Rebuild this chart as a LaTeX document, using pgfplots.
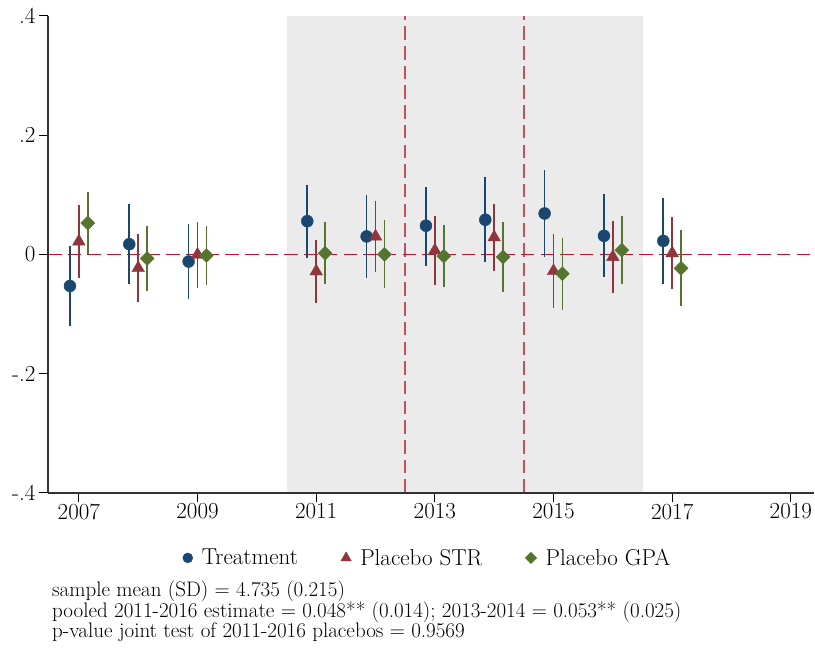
\documentclass[border=0pt]{standalone}
\usepackage{fontspec}
\usepackage{pgfplots}
\usepackage{pgfplotstable}
\pgfplotsset{compat=1.18}
\definecolor{tnavy}{RGB}{26,71,111}
\definecolor{tmaroon}{RGB}{144,53,59}
\definecolor{tgreen}{RGB}{85,117,47}
\definecolor{zred}{RGB}{200,16,46}
\definecolor{bandgray}{RGB}{235,235,235}
\definecolor{vred}{RGB}{196,80,95}

\pgfplotstableread{
x y lo hi
2006.85 -0.053 -0.120 0.0135
2007.85 0.017 -0.049 0.084
2008.85 -0.012 -0.075 0.051
2010.85 0.0556 -0.006 0.117
2011.85 0.030 -0.040 0.100
2012.85 0.048 -0.019 0.113
2013.85 0.058 -0.012 0.129
2014.85 0.0685 -0.0045 0.1415
2015.85 0.031 -0.038 0.1016
2016.85 0.0225 -0.049 0.094
}\treat

\pgfplotstableread{
x y lo hi
2007 0.0215 -0.039 0.082
2008 -0.023 -0.080 0.034
2009 -0.0005 -0.056 0.055
2011 -0.0285 -0.081 0.024
2012 0.030 -0.030 0.090
2013 0.0065 -0.052 0.065
2014 0.0285 -0.028 0.085
2015 -0.028 -0.090 0.034
2016 -0.0045 -0.065 0.056
2017 0.002 -0.058 0.062
}\str

\pgfplotstableread{
x y lo hi
2007.15 0.0525 0.0 0.105
2008.15 -0.007 -0.062 0.048
2009.15 -0.002 -0.052 0.048
2011.15 0.00175 -0.0505 0.054
2012.15 0.0 -0.057 0.057
2013.15 -0.003 -0.055 0.049
2014.15 -0.0045 -0.063 0.054
2015.15 -0.0325 -0.093 0.028
2016.15 0.007 -0.0505 0.064
2017.15 -0.0235 -0.087 0.040
}\gpa

\begin{document}
\begin{tikzpicture}[x=1pt,y=1pt,font=\fontsize{23}{27}\selectfont]
\useasboundingbox (0,0) rectangle (815,653);
\begin{axis}[
  at={(48pt,160pt)}, anchor=south west,
  scale only axis, width=766pt, height=477.3pt,
  xmin=2006.48, xmax=2019.39, ymin=-0.4, ymax=0.4,
  axis x line=bottom, axis y line=left,
  axis line style={-, line width=1.2pt, black!80},
  axis on top,
  xtick={2007,2009,2011,2013,2015,2017,2019},
  xticklabels={2007,2009,2011,2013,2015,2017,2019},
  ytick={-0.4,-0.2,0,0.2,0.4},
  yticklabels={-.4,-.2,0,.2,.4},
  /pgf/number format/assume math mode=true,
  tick align=outside, major tick length=9pt,
  tick style={black, line width=1pt},
  xticklabel style={yshift=2pt},
  legend style={at={(0.5,-0.136)}, anchor=center, draw=none, fill=none,
    legend columns=3, font=\fontsize{23}{27}\selectfont,
    /tikz/every even column/.append style={column sep=34pt},
    nodes={inner xsep=9pt}},
  legend cell align=left,
]
\fill[fill=bandgray] (axis cs:2010.5,-0.4) rectangle (axis cs:2016.5,0.4);
\draw[draw=vred, line width=1.8pt, dash pattern=on 13.5pt off 6.2pt] (axis cs:2012.5,-0.4) -- (axis cs:2012.5,0.4) (axis cs:2014.5,-0.4) -- (axis cs:2014.5,0.4);
\draw[draw=zred, line width=1.6pt, dash pattern=on 13.5pt off 6.2pt] (axis cs:2006.48,0) -- (axis cs:2019.39,0);

\addplot[only marks, mark=*, mark size=6pt, tnavy, forget plot,
  error bars/.cd, y dir=both, y explicit, error mark=none,
  error bar style={line width=1.7pt, tnavy}]
  table[x=x, y=y, y error plus expr=\thisrow{hi}-\thisrow{y}, y error minus expr=\thisrow{y}-\thisrow{lo}] {\treat};
\addplot[only marks, mark=triangle*, mark size=7.3pt, tmaroon, forget plot,
  error bars/.cd, y dir=both, y explicit, error mark=none,
  error bar style={line width=1.7pt, tmaroon}]
  table[x=x, y=y, y error plus expr=\thisrow{hi}-\thisrow{y}, y error minus expr=\thisrow{y}-\thisrow{lo}] {\str};
\addplot[only marks, mark=square*, mark size=4.95pt, mark options={rotate=45}, tgreen, forget plot,
  error bars/.cd, y dir=both, y explicit, error mark=none,
  error bar style={line width=1.7pt, tgreen}]
  table[x=x, y=y, y error plus expr=\thisrow{hi}-\thisrow{y}, y error minus expr=\thisrow{y}-\thisrow{lo}] {\gpa};

\addlegendimage{only marks, mark=*, mark size=5pt, tnavy}
\addlegendentry{Treatment}
\addlegendimage{only marks, mark=triangle*, mark size=6pt, tmaroon}
\addlegendentry{Placebo STR}
\addlegendimage{only marks, mark=square*, mark size=4pt, mark options={rotate=45}, tgreen}
\addlegendentry{Placebo GPA}
\end{axis}
\begin{scope}[font=\fontsize{21}{25}\selectfont]
\node[anchor=base west, inner sep=0pt] at (52,56) {sample mean (SD) = 4.735 (0.215)};
\node[anchor=base west, inner sep=0pt] at (52,35.5) {pooled 2011-2016 estimate = 0.048** (0.014); 2013-2014 = 0.053** (0.025)};
\node[anchor=base west, inner sep=0pt] at (52,15) {p-value joint test of 2011-2016 placebos = 0.9569};
\end{scope}
\end{tikzpicture}
\end{document}
